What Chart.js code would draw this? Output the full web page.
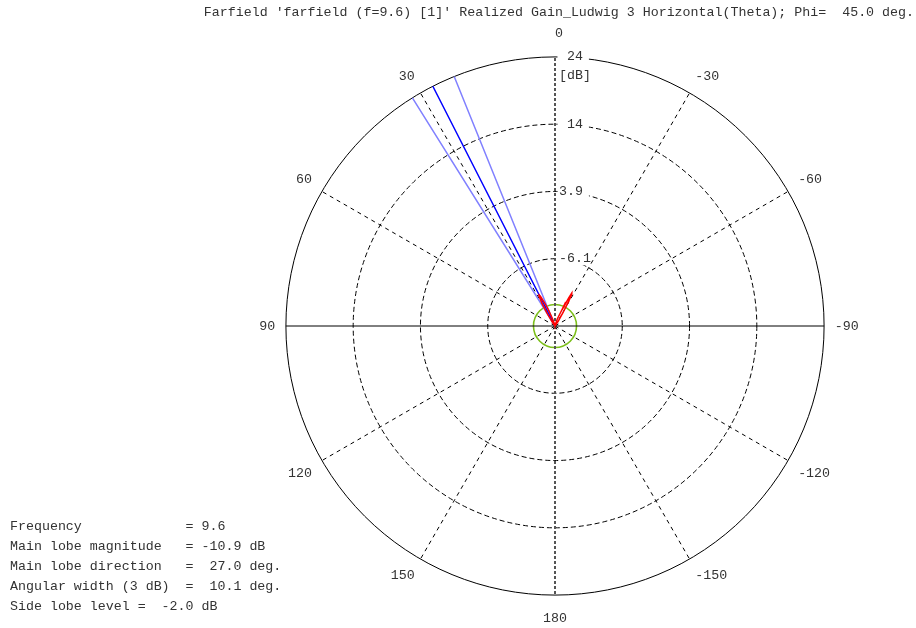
<!DOCTYPE html>
<html>
<head>
<meta charset="utf-8">
<script src="https://cdn.jsdelivr.net/npm/chart.js@4.4.1/dist/chart.umd.min.js"></script>
<style>
  body { margin: 0; background: #fff; }
  #wrap { position: relative; width: 916px; height: 628px; }
  #info {
    position: absolute; left: 10px; top: 517px; margin: 0;
    font: 13.3px/20px 'Liberation Mono', monospace; color: #333;
  }
</style>
</head>
<body>
<div id="wrap">
  <canvas id="farfield" width="916" height="628"></canvas>
<pre id="info">Frequency             = 9.6
Main lobe magnitude   = -10.9 dB
Main lobe direction   =  27.0 deg.
Angular width (3 dB)  =  10.1 deg.
Side lobe level =  -2.0 dB</pre>
</div>
<script>
// radial scale (dB)
const scaleMin = -16.1;
const scaleMax = 23.9;
const ringValues = [-6.1, 3.9, 13.9, 23.9];
const ringLabels = ['-6.1', '3.9', '14', '24'];
const ringShift  = [5, 5, 6, 6];          // chars of space left of each dB label
const unitValue = 21.1;
const unitLabel = '[dB]';
const sideLobeLevel = -12.9;              // main lobe -10.9 dB, side lobe level -2.0 dB

// theta labels every 30 deg
const angleLabelStep = 30;

// main lobe markers
const mainLobeDir = 27.0;
const beamEdges = [21.95, 32.05];

// realized gain (theta in deg, dB)
const gainTheta = [-45, -40, -34, -31, -29, -28, -27, -26, -25, -24, -23, -18, -10,
                   0, 10, 18, 22, 24, 26, 27, 28, 30, 32, 36, 45];
const gainDb    = [-16.1, -16.1, -15.3, -13.8, -12.0, -10.8, -10.6, -11.4, -12.6, -12.2, -13.6, -15.0, -15.9,
                   -16.1, -16.0, -15.2, -13.6, -12.4, -11.2, -10.9, -11.0, -12.3, -13.9, -15.6, -16.1];

const fontSize = 13.3;
const charW = fontSize * 0.6;
const labelCells = 9;                     // every dB label padded to the same width

// radar goes clockwise from the top, theta grows counter-clockwise
function indexOf(theta) {
  return ((-Math.round(theta)) % 360 + 360) % 360;
}
function thetaOf(i) {
  let t = -i;
  if (t <= -180) t += 360;
  return t;
}
const labels = [];
for (let i = 0; i < 360; i++) labels.push(String(thetaOf(i)));

function sparse(thetas, values) {
  const arr = new Array(360).fill(null);
  thetas.forEach((t, k) => { arr[indexOf(t)] = values[k]; });
  return arr;
}
function ray(theta) {
  return sparse([theta, theta + 180], [scaleMax, scaleMin]);
}
function padLabel(text, lead) {
  return ' '.repeat(lead) + text + ' '.repeat(Math.max(0, labelCells - lead - text.length));
}

const tickValues = [scaleMin, sideLobeLevel, ...ringValues, unitValue].sort((a, b) => a - b);

Chart.defaults.font.family = "'Liberation Mono', monospace";
Chart.defaults.font.size = fontSize;
Chart.defaults.color = '#333';

new Chart(document.getElementById('farfield'), {
  type: 'radar',
  data: {
    labels: labels,
    datasets: [
      { label: 'gain', data: sparse(gainTheta, gainDb), borderColor: '#ff0000', borderWidth: 1.5 },
      { label: 'main lobe', data: ray(mainLobeDir), borderColor: '#0000ff', borderWidth: 1.5 },
      { label: 'edge 1', data: ray(beamEdges[0]), borderColor: '#8080ff', borderWidth: 1.5 },
      { label: 'edge 2', data: ray(beamEdges[1]), borderColor: '#8080ff', borderWidth: 1.5 }
    ]
  },
  options: {
    responsive: false,
    animation: false,
    spanGaps: true,
    elements: {
      point: { radius: 0, hoverRadius: 0 },
      line: { fill: false, tension: 0 }
    },
    layout: { padding: { left: 196, right: 2, top: 0, bottom: 1 } },
    plugins: {
      legend: { display: false },
      tooltip: { enabled: false },
      title: {
        display: true,
        text: "Farfield 'farfield (f=9.6) [1]' Realized Gain_Ludwig 3 Horizontal(Theta); Phi=  45.0 deg.",
        align: 'end',
        color: '#333',
        font: { size: fontSize, weight: 'normal', lineHeight: 1.2 },
        padding: { top: 4, bottom: 7 }
      }
    },
    scales: {
      r: {
        min: scaleMin,
        max: scaleMax,
        afterBuildTicks: s => { s.ticks = tickValues.map(v => ({ value: v })); },
        grid: {
          circular: true,
          color: c => (c.tick && c.tick.value === sideLobeLevel) ? '#7cbf1a' : '#000',
          lineWidth: c => {
            const v = c.tick ? c.tick.value : null;
            if (v === scaleMin || v === unitValue) return 0;
            return v === sideLobeLevel ? 1.6 : 1;
          }
        },
        border: {
          dash: c => {
            const v = c.tick ? c.tick.value : null;
            return (v === scaleMax || v === sideLobeLevel) ? [] : [5, 3];
          }
        },
        angleLines: {
          color: c => c.index % 180 === 0 ? '#555' : '#000',
          lineWidth: c => c.index % angleLabelStep ? 0 : (c.index % 180 === 0 ? 2 : 1),
          borderDash: c => c.index % 180 === 0 ? [3, 2] : (c.index % 90 === 0 ? [] : [4, 4])
        },
        pointLabels: {
          callback: (label, i) => i % angleLabelStep ? '' : (i === 0 ? ' ' + label : label),
          color: '#333',
          font: { size: fontSize, lineHeight: 1 },
          padding: c => c.index % 180 === 0 ? 10 : (c.index % 90 === 0 ? 4 : 5)
        },
        ticks: {
          color: '#333',
          font: { size: fontSize, lineHeight: 1 },
          callback: value => {
            const k = ringValues.indexOf(value);
            if (k >= 0) return padLabel(ringLabels[k], ringShift[k]);
            if (value === unitValue) return padLabel(unitLabel, 5);
            return '';
          },
          showLabelBackdrop: c => !!(c.tick && c.tick.label && String(c.tick.label).trim()),
          backdropColor: '#fff',
          backdropPadding: { left: -(5 * charW - 1.5), right: -2, top: 0, bottom: 0 }
        }
      }
    }
  }
});
</script>
</body>
</html>
